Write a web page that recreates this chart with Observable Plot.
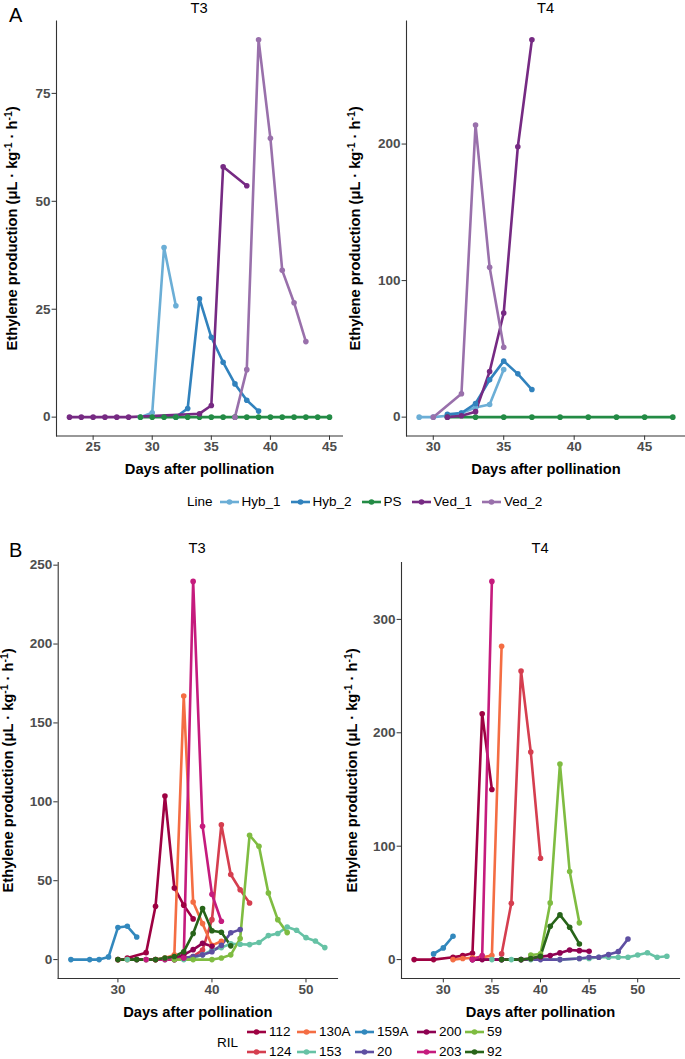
<!DOCTYPE html>
<html>
<head>
<meta charset="utf-8">
<script src="https://cdn.jsdelivr.net/npm/d3@7"></script>
<script src="https://cdn.jsdelivr.net/npm/@observablehq/plot@0.6"></script>
<style>
  body { margin: 0; background: #fff; }
  #root { position: relative; width: 685px; height: 1059px; overflow: hidden; font-family: "Liberation Sans", Arial, sans-serif; color: #000; }
  .abs { position: absolute; white-space: nowrap; line-height: 1.15; }
  .tag { font-size: 20px; }
  .ptitle { font-size: 14.7px; width: 80px; text-align: center; line-height: 1; }
  .ytitle { font-size: 14.7px; font-weight: bold; width: 320px; text-align: center; transform: rotate(-90deg); transform-origin: 50% 50%; }
  .ytitle sup { font-size: 70%; line-height: 0; vertical-align: 0.45em; }
  .plotbox { position: absolute; }
  .plotbox svg { overflow: visible; }
  svg [aria-label="x-axis label"] { fill: #000; font-weight: bold; font-size: 14.7px; }
  svg [aria-label="x-axis tick label"], svg [aria-label="y-axis tick label"] { fill: #4d4d4d; font-weight: bold; font-size: 13.5px; }
  .leg { font-size: 13.5px; display: flex; align-items: center; }
  .leg svg { display: block; }
</style>
</head>
<body>
<div id="root"></div>
<script>
// ---------- categories & colours ----------
const linesA = ["Hyb_1", "Hyb_2", "PS", "Ved_1", "Ved_2"];
const colorsA = ["#6BAED6", "#3182BD", "#238B45", "#762A83", "#9970AB"];
const rils = ["112", "124", "130A", "153", "159A", "20", "200", "203", "59", "92"];
const colorsB = ["#9E0142", "#D53E4F", "#F46D43", "#66C2A5", "#3288BD", "#5E4FA2", "#8E0152", "#C51B7D", "#7FBC41", "#276419"];

// ---------- tick labels ----------
const aT3xTicks = [25, 30, 35, 40, 45];
const aT3yTicks = [0, 25, 50, 75];
const aT4xTicks = [30, 35, 40, 45];
const aT4yTicks = [0, 100, 200];
const bT3xTicks = [30, 40, 50];
const bT3yTicks = [0, 50, 100, 150, 200, 250];
const bT4xTicks = [30, 35, 40, 45, 50];
const bT4yTicks = [0, 100, 200, 300];

// ---------- Panel A, T3 : [day, ethylene] ----------
const aT3_Hyb_1 = [[29,0],[30,1],[31,39.3],[32,25.8]];
const aT3_Hyb_2 = [[32,0],[33,2],[34,27.4],[35,18.5],[36,12.7],[37,7.7],[38,3.9],[39,1.4]];
const aT3_PS    = [[29,0],[30,0],[31,0],[32,0],[33,0],[34,0],[35,0],[36,0],[37,0],[38,0],[39,0],[40,0],[41,0],[42,0],[43,0],[44,0],[45,0]];
const aT3_Ved_1 = [[23,0],[24,0],[25,0],[26,0],[27,0],[28,0],[34,0.8],[35,2.7],[36,58],[38,53.6]];
const aT3_Ved_2 = [[37,0],[38,11],[39,87.4],[40,64.6],[41,34],[42,26.5],[43,17.5]];

// ---------- Panel A, T4 ----------
const aT4_Hyb_1 = [[29,0],[30,0],[31,1],[32,3],[33,7],[34,9.3],[35,34.9]];
const aT4_Hyb_2 = [[31,2],[32,3],[33,10],[34,27.3],[35,41],[36,31.7],[37,20.2]];
const aT4_PS    = [[31,0],[33,0],[35,0],[37,0],[39,0],[41,0],[43,0],[45,0],[47,0]];
const aT4_Ved_1 = [[31,0],[32,1],[33,4],[34,33.4],[35,76.3],[36,198],[37,276.3]];
const aT4_Ved_2 = [[30,0],[32,17.1],[33,213.9],[34,109.8],[35,51.2]];

// ---------- Panel B, T3 ----------
const bT3_112  = [[31,1],[33,4.4],[34,33.8],[35,103.7],[36,45.4],[37,34.5],[38,25.8]];
const bT3_124  = [[36,0],[37,1],[38,2],[39,6],[40,25.3],[41,85.5],[42,53.9],[43,44.3],[44,35.9]];
const bT3_130A = [[30,0],[31,0],[33,0],[34,0],[35,1],[36,3],[37,167],[38,36.5],[39,22.8],[40,9],[41,11.6]];
const bT3_153  = [[31,0],[33,0],[35,0],[37,0],[38,1],[39,3],[40,6],[41,7.6],[42,10],[43,9.7],[44,9.5],[45,10.8],[46,15.2],[47,16.5],[48,20.7],[49,18.6],[50,13.9],[51,11.8],[52,7.6]];
const bT3_159A = [[25,0],[27,0],[28,0],[29,1.7],[30,20.3],[31,21.1],[32,14.3]];
const bT3_20   = [[36,0],[37,1],[38,2],[39,3],[40,5],[41,9],[42,17],[43,19]];
const bT3_200  = [[30,0],[32,0],[34,0],[36,1],[37,3],[38,6.3],[39,10.3],[40,8.5]];
const bT3_203  = [[33,0],[35,0],[36,0],[37,1],[38,239.7],[39,84.5],[40,41.4],[41,24.3]];
const bT3_59   = [[36,0],[38,0],[40,0],[41,1],[42,3],[43,13.3],[44,78.8],[45,71.8],[46,42.2],[47,25.3],[48,17.1]];
const bT3_92   = [[30,0],[32,0],[34,0],[35,1],[36,2],[37,5],[38,16.5],[39,32.4],[40,18.3],[41,17.3],[42,8.7]];

// ---------- Panel B, T4 ----------
const bT4_112  = [[27,0],[29,0],[31,2],[32,3.5],[33,5.6],[34,216.8],[35,150]];
const bT4_124  = [[36,5],[37,49.7],[38,254.5],[39,183],[40,89.4]];
const bT4_130A = [[31,0],[32,1],[33,1.5],[34,2],[35,3.5],[36,276.3]];
const bT4_153  = [[35,0],[37,0],[39,0],[42,0],[44,1],[45,1],[46,2],[47,2],[48,2],[49,2],[50,4],[51,6],[52,2],[53,3]];
const bT4_159A = [[29,5],[30,10.3],[31,20.6]];
const bT4_20   = [[33,0],[36,0],[38,0],[40,0],[42,0],[44,1],[45,2],[46,2],[47,4.4],[48,7],[49,18.2]];
const bT4_200  = [[33,0],[34,0],[36,0],[38,0],[39,1],[40,2.6],[41,3.5],[42,5.9],[43,8.5],[44,7.9],[45,7.4]];
const bT4_203  = [[33,0],[34,3.5],[35,333.5]];
const bT4_59   = [[39,4],[40,5],[41,50],[42,172.5],[43,77.7],[44,32.4]];
const bT4_92   = [[36,0],[38,0],[39,1],[40,3],[41,29.4],[42,39.4],[43,28.5],[44,13.8]];

// ---------- helpers ----------
function table(names, arrays) {
  const rows = [];
  names.forEach((s, i) => arrays[i].forEach(([day, value]) => rows.push({series: s, day, value})));
  return rows;
}

function panel(rows, domain, range, xTicks, yTicks, o) {
  const [x0, x1] = d3.extent(rows, d => d.day);
  const y1 = d3.max(rows, d => d.value), y0 = 0;
  const ex = (x1 - x0) * 0.05, ey = (y1 - y0) * 0.05;
  const axisStyle = {fontWeight: "bold", fontSize: 13.5, stroke: "#333333", fill: "#4d4d4d", tickSize: 4.4, tickPadding: 1.5};
  return Plot.plot({
    width: o.width, height: o.height,
    marginLeft: o.ml, marginRight: o.mr, marginTop: o.mt, marginBottom: o.mb,
    style: {fontFamily: "Liberation Sans, Arial, sans-serif", overflow: "visible", background: "transparent"},
    x: {domain: [x0 - ex, x1 + ex]},
    y: {domain: [y0 - ey, y1 + ey]},
    color: {domain, range},
    marks: [
      Plot.frame({anchor: "left", stroke: "#333333", strokeWidth: 1.1}),
      Plot.frame({anchor: "bottom", stroke: "#333333", strokeWidth: 1.1}),
      Plot.axisY({...axisStyle, ticks: yTicks, tickFormat: d => String(d), label: null}),
      Plot.axisX({...axisStyle, ticks: xTicks, tickFormat: d => String(d), label: "Days after pollination",
                  labelAnchor: "center", labelArrow: "none", labelOffset: o.lo}),
      Plot.line(rows, {x: "day", y: "value", z: "series", stroke: "series", strokeWidth: 2.6}),
      Plot.dot(rows, {x: "day", y: "value", fill: "series", r: 2.8})
    ]
  });
}

const root = document.getElementById("root");
function place(node, left, top) {
  const box = document.createElement("div");
  box.className = "plotbox";
  box.style.left = left + "px"; box.style.top = top + "px";
  box.appendChild(node); root.appendChild(box);
}
function text(html, cls, left, top) {
  const d = document.createElement("div");
  d.className = "abs " + cls; d.innerHTML = html;
  d.style.left = left + "px"; d.style.top = top + "px";
  root.appendChild(d); return d;
}
const yTitle = "Ethylene production (μL · kg<sup>-1</sup> · h<sup>-1</sup>)";
function ytitle(cx, cy) {
  const h = 14.7 * 1.15;
  text(yTitle, "ytitle", cx - 160, cy - h / 2);
}
function ptitle(label, cx, top) {
  text(label, "ptitle", cx - 40, top);
}

// ---------- plots ----------
const A3 = table(linesA, [aT3_Hyb_1, aT3_Hyb_2, aT3_PS, aT3_Ved_1, aT3_Ved_2]);
const A4 = table(linesA, [aT4_Hyb_1, aT4_Hyb_2, aT4_PS, aT4_Ved_1, aT4_Ved_2]);
const B3 = table(rils, [bT3_112, bT3_124, bT3_130A, bT3_153, bT3_159A, bT3_20, bT3_200, bT3_203, bT3_59, bT3_92]);
const B4 = table(rils, [bT4_112, bT4_124, bT4_130A, bT4_153, bT4_159A, bT4_20, bT4_200, bT4_203, bT4_59, bT4_92]);

place(panel(A3, linesA, colorsA, aT3xTicks, aT3yTicks, {width: 342, height: 480, ml: 56, mr: 0, mt: 20.5, mb: 44.5, lo: 38}), 0, 0);
place(panel(A4, linesA, colorsA, aT4xTicks, aT4yTicks, {width: 319, height: 480, ml: 40, mr: 0, mt: 20.5, mb: 44.5, lo: 38}), 366, 0);
place(panel(B3, rils, colorsB, bT3xTicks, bT3yTicks, {width: 337, height: 483, ml: 57.7, mr: 0, mt: 22, mb: 45, lo: 38}), 0, 540);
place(panel(B4, rils, colorsB, bT4xTicks, bT4yTicks, {width: 318, height: 483, ml: 40, mr: 0, mt: 22, mb: 45, lo: 38}), 361, 540);

// ---------- tags, titles ----------
text("A", "tag", 9, 22 - 0.92 * 20);
text("B", "tag", 9, 557 - 0.92 * 20);
ptitle("T3", 199, 1);
ptitle("T4", 545.5, 1);
ptitle("T3", 197, 541);
ptitle("T4", 540, 541);
ytitle(12, 228);
ytitle(355, 228);
ytitle(8.4, 770);
ytitle(352, 770);

// ---------- legends ----------
function key(color) {
  return `<svg width="19" height="10"><line x1="0" x2="19" y1="5" y2="5" stroke="${color}" stroke-width="2.6"/><circle cx="9.5" cy="5" r="2.8" fill="${color}"/></svg>`;
}
const legA = document.createElement("div");
legA.className = "abs leg";
legA.style.left = "187px"; legA.style.top = "494px";
legA.innerHTML = `<span style="margin-right:7px">Line</span>` +
  linesA.map((s, i) => `${key(colorsA[i])}<span style="margin:0 10px 0 3px">${s}</span>`).join("");
root.appendChild(legA);

text("RIL", "leg", 217, 1043 - 8);
const colKeyX = [247, 297, 355, 417, 465];
const rowY = [1032, 1052];
rils.forEach((s, i) => {
  // legend filled column-wise with 2 rows
  const col = Math.floor(i / 2), row = i % 2;
  const d = document.createElement("div");
  d.className = "abs leg";
  d.style.left = colKeyX[col] + "px"; d.style.top = (rowY[row] - 8) + "px";
  d.innerHTML = `${key(colorsB[i])}<span style="margin-left:3px">${s}</span>`;
  root.appendChild(d);
});
</script>
</body>
</html>
